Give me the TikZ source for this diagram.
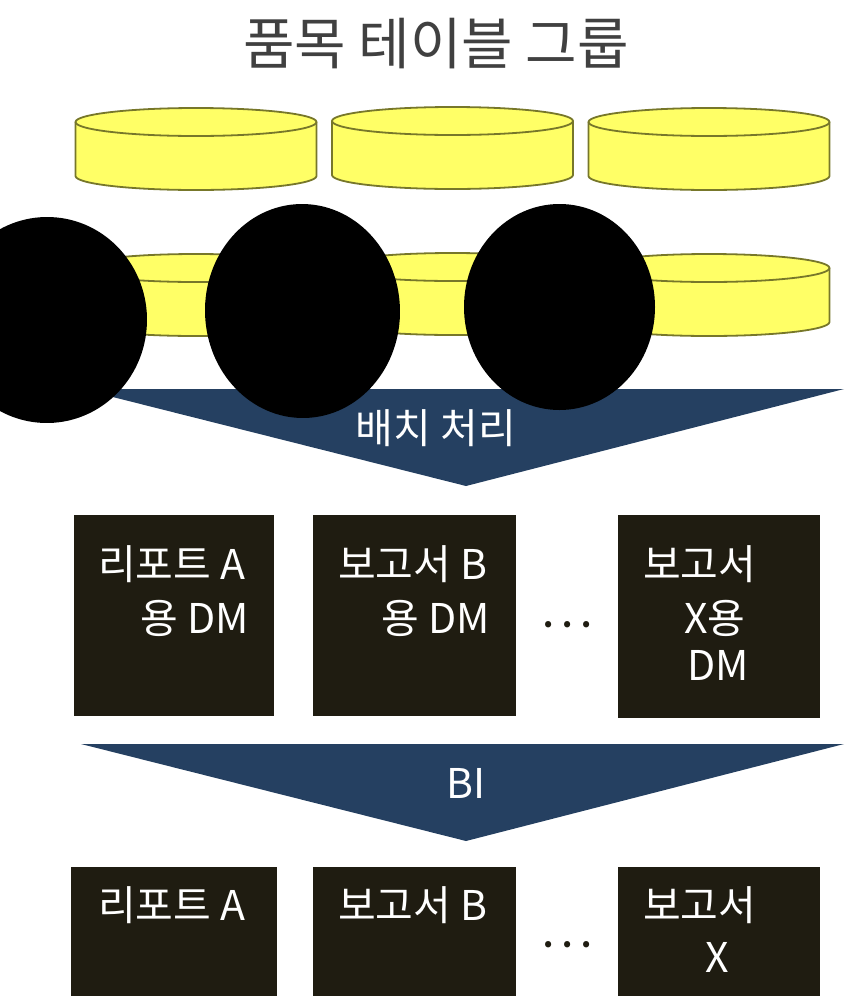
\documentclass[tikz,border=0pt]{standalone}
\usepackage{fontspec}
\setmainfont{Noto Sans CJK KR}
\usetikzlibrary{shapes.geometric, positioning}
\definecolor{diskfill}{HTML}{FFFF66}
\definecolor{diskline}{HTML}{77772A}
\definecolor{bannerblue}{HTML}{254061}
\definecolor{boxdark}{HTML}{1F1C11}
\definecolor{titlegray}{HTML}{404040}
\begin{document}
\begin{tikzpicture}[x=1pt,y=-1pt,
 disk/.style={draw=diskline,fill=diskfill,line width=1.8pt},
 banner/.style={fill=bannerblue},
 boxtext/.style={text=white,anchor=west,inner sep=0pt,font=\fontsize{41}{46}\selectfont},
 blob/.style={ellipse,fill=black,inner sep=0pt},
 dots/.style={font=\fontsize{29}{29}\bfseries\selectfont,text=boxdark}]

  \useasboundingbox (0,0) rectangle (844,1002);
  \node[font=\fontsize{56}{62}\selectfont,text=titlegray] (title) at (436,44) {품목 테이블 그룹};

  \foreach \cx/\cy in {196/108, 452.5/107, 709/108, 196/254, 452.5/253, 709/254} {
   \draw[disk] (\cx-120.5,\cy+14) -- (\cx-120.5,\cy+68)
     arc[start angle=180,end angle=0,x radius=120.5,y radius=14]
     -- (\cx+120.5,\cy+14)
     arc[start angle=0,end angle=-180,x radius=120.5,y radius=14] -- cycle;
   \draw[disk,fill=none] (\cx-120.5,\cy+14) arc[start angle=180,end angle=0,x radius=120.5,y radius=14];}

  \coordinate (b1l) at (81,389);
  \coordinate (b1r) at (844,389);
  \coordinate (b1t) at (466,486);
  \fill[banner] (b1l) -- (b1r) -- (b1t) -- cycle;
  \node[boxtext,anchor=center] (batch) at (436,428) {배치 처리};

  \node[blob,rotate=-2,minimum width=200pt,minimum height=206pt] (m1) at (47,320) {};
  \node[blob,rotate=1.5,minimum width=195pt,minimum height=214pt] (m2) at (302.5,311) {};
  \node[blob,minimum width=191pt,minimum height=206pt] (m3) at (559.5,307) {};

  \fill[boxdark] (74,515) rectangle (274,716);
  \fill[boxdark] (313,515) rectangle (516,716);
  \fill[boxdark] (618,515) rectangle (820,718);
  \node[boxtext] (r1a) at (98,564) {리포트 A};
  \node[boxtext] (r1b) at (140,618) {용 DM};
  \node[boxtext] (r2a) at (338,564) {보고서 B};
  \node[boxtext] (r2b) at (381,618) {용 DM};
  \node[boxtext] (r3a) at (643,564) {보고서};
  \node[boxtext] (r3b) at (684,618) {X용};
  \node[boxtext] (r3c) at (687,665) {DM};
  \node[dots] (dots1) at (568,625) {. . .};

  \coordinate (b2l) at (81,744);
  \coordinate (b2r) at (844,744);
  \coordinate (b2t) at (466,841);
  \fill[banner] (b2l) -- (b2r) -- (b2t) -- cycle;
  \node[boxtext,anchor=center] (bi) at (466,783) {BI};

  \fill[boxdark] (71,867) rectangle (277,996);
  \fill[boxdark] (313,867) rectangle (516,996);
  \fill[boxdark] (618,867) rectangle (820,996);
  \node[boxtext] (o1) at (98,905) {리포트 A};
  \node[boxtext] (o2) at (338,905) {보고서 B};
  \node[boxtext] (o3a) at (643,905) {보고서};
  \node[boxtext] (o3b) at (705,957) {X};
  \node[dots] (dots2) at (568,945) {. . .};
\end{tikzpicture}
\end{document}
